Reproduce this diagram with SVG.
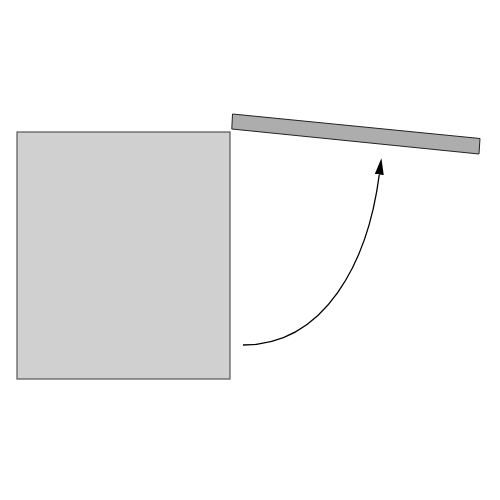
<svg xmlns="http://www.w3.org/2000/svg" width="500" height="500" viewBox="0 0 500 500">
<style>
.box{fill:#d0d0d0;stroke:#555;stroke-width:1.2}
.bar{fill:#adadad;stroke:#222;stroke-width:1}
.conn{fill:none;stroke:#000;stroke-width:1.3}
</style>
<defs>
<marker id="ah" markerUnits="userSpaceOnUse" markerWidth="18" markerHeight="10" refX="0" refY="4.5" orient="auto">
<path d="M0,0 L16.5,4.5 L0,9 z" fill="#000"/>
</marker>
</defs>
<rect width="500" height="500" fill="#fff"/>
<g id="box">
<rect class="box" x="17" y="132" width="213" height="247"/>
</g>
<g id="bar">
<polygon class="bar" points="232.5,114 480,138.5 479,154 231.8,129"/>
</g>
<g id="connectors">
<path class="conn" d="M243,345 C325,345 368,262 379.3,174.5" marker-end="url(#ah)"/>
</g>
</svg>
